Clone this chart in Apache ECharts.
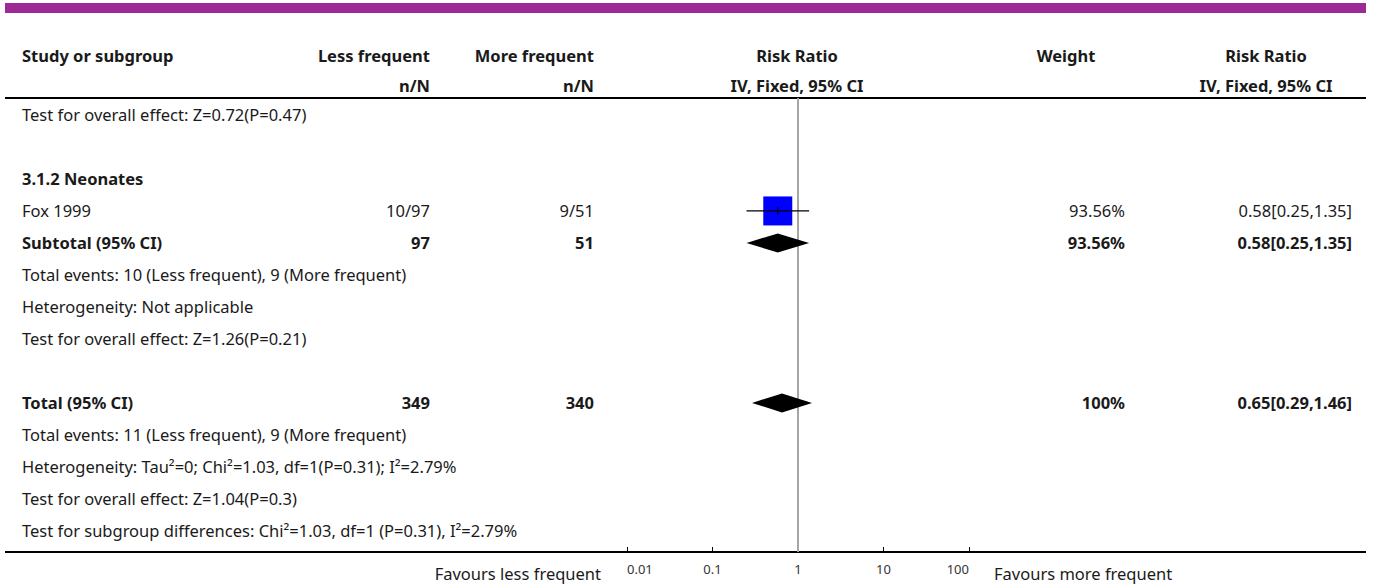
<!DOCTYPE html>
<html>
<head>
<meta charset="utf-8">
<script src="https://cdn.jsdelivr.net/npm/echarts@6/dist/echarts.min.js"></script>
<style>
  html, body { margin: 0; padding: 0; background: #fff; }
  #chart { width: 1375px; height: 586px; }
</style>
</head>
<body>
<div id="chart"></div>
<script>
// ---- Table rows (top to bottom) ----
const rowLabels = [
  'Test for overall effect: Z=0.72(P=0.47)',
  '',
  '3.1.2 Neonates',
  'Fox 1999',
  'Subtotal (95% CI)',
  'Total events: 10 (Less frequent), 9 (More frequent)',
  'Heterogeneity: Not applicable',
  'Test for overall effect: Z=1.26(P=0.21)',
  '',
  'Total (95% CI)',
  'Total events: 11 (Less frequent), 9 (More frequent)',
  'Heterogeneity: Tau\u00b2=0; Chi\u00b2=1.03, df=1(P=0.31); I\u00b2=2.79%',
  'Test for overall effect: Z=1.04(P=0.3)',
  'Test for subgroup differences: Chi\u00b2=1.03, df=1 (P=0.31), I\u00b2=2.79%'
];
const boldRows = [2, 4, 9];

// Column texts per row (empty string = nothing drawn)
const lessCol   = ['', '', '', '10/97', '97', '', '', '', '', '349', '', '', '', ''];
const moreCol   = ['', '', '', '9/51',  '51', '', '', '', '', '340', '', '', '', ''];
const weightCol = ['', '', '', '93.56%', '93.56%', '', '', '', '', '100%', '', '', '', ''];
const rrCol     = ['', '', '', '0.58[0.25,1.35]', '0.58[0.25,1.35]', '', '', '', '', '0.65[0.29,1.46]', '', '', '', ''];

// Individual studies
const studyRow = [3];
const studyRR = [0.58];
const studyLo = [0.25];
const studyHi = [1.35];
const studyWeight = [93.56];

// Pooled estimates (diamonds)
const pooledRow = [4, 9];
const pooledRR = [0.58, 0.65];
const pooledLo = [0.25, 0.29];
const pooledHi = [1.35, 1.46];

// Axis ticks
const tickValues = [0.01, 0.1, 1, 10, 100];
const tickLabels = ['0.01', '0.1', '1', '10', '100'];

const FONT = 'Noto Sans';
const FONT_SIZE = 16.5;
const TEXT_COLOR = '#1a1a1a';

const chart = echarts.init(document.getElementById('chart'), null, { renderer: 'svg' });

const studyData = studyRow.map((r, i) => [studyRR[i], r, studyLo[i], studyHi[i], studyWeight[i]]);
const pooledData = pooledRow.map((r, i) => [pooledRR[i], r, pooledLo[i], pooledHi[i]]);

chart.setOption({
  animation: false,
  grid: { left: 627, right: 406, top: 98, bottom: 34 },
  xAxis: {
    type: 'log',
    logBase: 10,
    min: tickValues[0],
    max: tickValues[tickValues.length - 1],
    splitLine: { show: false },
    axisLine: { show: false, onZero: false },
    axisTick: { show: true, inside: true, length: 5, lineStyle: { color: '#000', width: 1 } },
    axisLabel: {
      margin: 10,
      fontFamily: 'Noto Sans',
      fontSize: 13,
      color: '#333',
      alignMinLabel: 'left',
      alignMaxLabel: 'right',
      formatter: v => {
        const k = tickValues.findIndex(t => Math.abs(Math.log10(t) - Math.log10(v)) < 1e-6);
        return k >= 0 ? tickLabels[k] : '';
      }
    }
  },
  yAxis: {
    type: 'value',
    inverse: true,
    min: -0.53,
    max: 13.66,
    show: false
  },
  series: [
    {
      // line of no effect
      type: 'custom',
      silent: true,
      z: 1,
      data: [[1, 0]],
      renderItem: (params, api) => {
        const top = api.coord([1, -0.53]);
        const bot = api.coord([1, 13.66]);
        return {
          type: 'line',
          shape: { x1: top[0], y1: top[1], x2: bot[0], y2: bot[1] },
          style: { stroke: '#a6a6a6', lineWidth: 2 }
        };
      }
    },
    {
      // study squares
      type: 'scatter',
      z: 3,
      symbol: 'rect',
      symbolSize: 29,
      itemStyle: { color: '#0000ff', opacity: 1 },
      data: studyData
    },
    {
      // confidence intervals
      type: 'custom',
      z: 4,
      data: studyData,
      renderItem: (params, api) => {
        const lo = api.coord([api.value(2), api.value(1)]);
        const hi = api.coord([api.value(3), api.value(1)]);
        const mid = api.coord([api.value(0), api.value(1)]);
        return {
          type: 'group',
          children: [
            { type: 'line', shape: { x1: lo[0], y1: lo[1], x2: hi[0], y2: hi[1] }, style: { stroke: '#000', lineWidth: 1.3 } },
            { type: 'line', shape: { x1: mid[0], y1: mid[1] - 4, x2: mid[0], y2: mid[1] + 4 }, style: { stroke: '#000', lineWidth: 1.2 } }
          ]
        };
      }
    },
    {
      // pooled diamonds
      type: 'custom',
      z: 3,
      data: pooledData,
      renderItem: (params, api) => {
        const c = api.coord([api.value(0), api.value(1)]);
        const lo = api.coord([api.value(2), api.value(1)]);
        const hi = api.coord([api.value(3), api.value(1)]);
        const h = 9.5;
        return {
          type: 'polygon',
          shape: { points: [[lo[0], c[1]], [c[0], c[1] - h], [hi[0], c[1]], [c[0], c[1] + h]] },
          style: { fill: '#000' }
        };
      }
    }
  ]
});

// ---- Table text, header and rules ----
const yOf = r => chart.convertToPixel({ yAxisIndex: 0 }, r);
const graphics = [];
const txt = (x, y, text, align, bold) => graphics.push({
  type: 'text',
  x: x, y: y,
  style: {
    text: text,
    textAlign: align,
    textVerticalAlign: 'middle',
    fontFamily: FONT,
    fontSize: FONT_SIZE,
    fontWeight: bold ? 'bold' : 'normal',
    fill: TEXT_COLOR
  }
});

// top band
graphics.push({ type: 'rect', shape: { x: 5, y: 3, width: 1361, height: 10 }, style: { fill: '#9c2a96' } });

// header
txt(22, 55, 'Study or subgroup', 'left', true);
txt(430, 55, 'Less frequent', 'right', true);
txt(430, 85, 'n/N', 'right', true);
txt(594, 55, 'More frequent', 'right', true);
txt(594, 85, 'n/N', 'right', true);
txt(797, 55, 'Risk Ratio', 'center', true);
txt(797, 85, 'IV, Fixed, 95% CI', 'center', true);
txt(1066, 55, 'Weight', 'center', true);
txt(1266, 55, 'Risk Ratio', 'center', true);
txt(1266, 85, 'IV, Fixed, 95% CI', 'center', true);

// rules
graphics.push({ type: 'line', shape: { x1: 5, y1: 98, x2: 1366, y2: 98 }, style: { stroke: '#000', lineWidth: 2 } });
graphics.push({ type: 'line', shape: { x1: 5, y1: 552, x2: 1366, y2: 552 }, style: { stroke: '#000', lineWidth: 2 } });

// rows
rowLabels.forEach((lab, r) => {
  const y = yOf(r);
  const b = boldRows.includes(r);
  if (lab) txt(22, y, lab, 'left', b);
  if (lessCol[r]) txt(430, y, lessCol[r], 'right', b);
  if (moreCol[r]) txt(594, y, moreCol[r], 'right', b);
  if (weightCol[r]) txt(1125, y, weightCol[r], 'right', b);
  if (rrCol[r]) txt(1352, y, rrCol[r], 'right', b);
});

// favours labels
txt(601, 573, 'Favours less frequent', 'right', false);
txt(994, 573, 'Favours more frequent', 'left', false);

chart.setOption({ graphic: graphics });
</script>
</body>
</html>
